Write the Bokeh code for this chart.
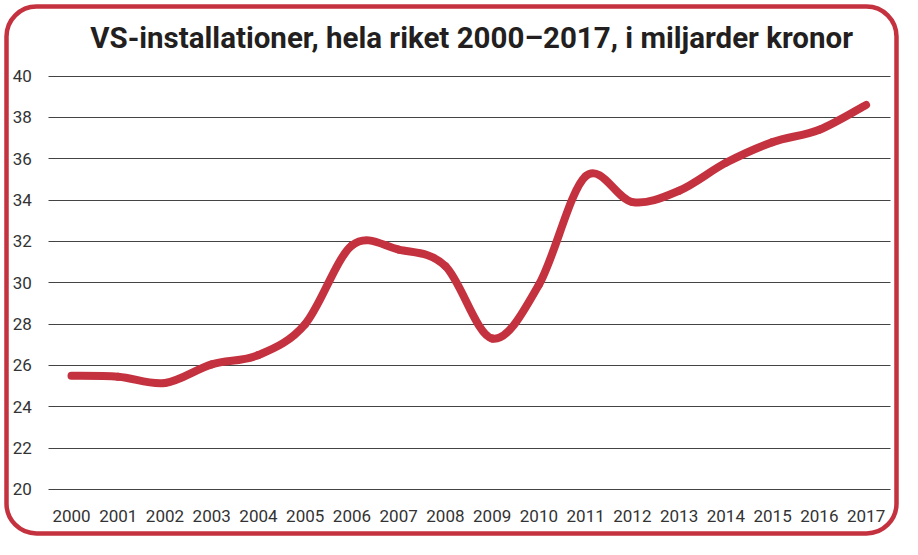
from bokeh.plotting import figure
from bokeh.models import (FixedTicker, ColumnDataSource, Range1d, LinearAxis,
                          Grid, BoxAnnotation, Label)
from bokeh.embed import file_html
from bokeh.resources import INLINE

years = list(range(2000, 2018))
values = [25.5, 25.45, 25.15, 26.05, 26.5, 28.0, 31.8, 31.6, 30.8, 27.3,
          29.9, 35.15, 33.9, 34.45, 35.8, 36.8, 37.4, 38.6]
y_ticks = list(range(20, 41, 2))
title_text = "VS-installationer, hela riket 2000\u20132017, i miljarder kronor"

RED = "#c5323f"
W, H = 902, 539

# pixel layout (canvas coords, y down)
X_FIRST_PX, X_STEP_PX = 71.0, 46.74      # position of first year, px per year
Y_TOP_PX, Y_UNIT_PX = 75.5, 20.67        # position of 40, px per unit
def dx(px):
    return years[0] + (px - X_FIRST_PX) / X_STEP_PX
def dy(py):
    return y_ticks[-1] - (py - Y_TOP_PX) / Y_UNIT_PX

p = figure(width=W, height=H, output_backend="svg", toolbar_location=None,
           x_range=Range1d(dx(0), dx(W)), y_range=Range1d(dy(H), dy(0)),
           x_axis_location=None, y_axis_location=None,
           min_border_left=0, min_border_right=0, min_border_top=0,
           min_border_bottom=0)
p.outline_line_color = None
p.background_fill_color = "white"
p.border_fill_color = "white"
p.xgrid.visible = False
p.ygrid.visible = False

# axes drawn at fixed positions inside the full-canvas frame
xaxis = LinearAxis(fixed_location=dy(497), ticker=FixedTicker(ticks=years))
yaxis = LinearAxis(fixed_location=dx(48.3), ticker=FixedTicker(ticks=y_ticks))
for ax in (xaxis, yaxis):
    ax.axis_line_color = None
    ax.major_tick_line_color = None
    ax.minor_tick_line_color = None
    ax.major_label_text_font = "Roboto"
    ax.major_label_text_font_size = "17px"
    ax.major_label_text_color = "#333333"
xaxis.major_label_standoff = 6
yaxis.major_label_standoff = 11
p.add_layout(xaxis, "below")
p.add_layout(yaxis, "left")

grid = Grid(dimension=1, ticker=FixedTicker(ticks=y_ticks),
            cross_bounds=(dx(48.3), dx(890)),
            grid_line_color="#444444", grid_line_width=1)
p.add_layout(grid)

# Catmull-Rom style bezier control points from the data
n = len(years)
x0, y0, x1, y1, cx0, cy0, cx1, cy1 = [], [], [], [], [], [], [], []
for i in range(n - 1):
    xm, ym = (years[i - 1], values[i - 1]) if i > 0 else (years[i], values[i])
    xa, ya = years[i], values[i]
    xb, yb = years[i + 1], values[i + 1]
    xp, yp = (years[i + 2], values[i + 2]) if i + 2 < n else (xb, yb)
    x0.append(xa); y0.append(ya); x1.append(xb); y1.append(yb)
    cx0.append(xa + (xb - xm) / 6); cy0.append(ya + (yb - ym) / 6)
    cx1.append(xb - (xp - xa) / 6); cy1.append(yb - (yp - ya) / 6)
src = ColumnDataSource(dict(x0=x0, y0=y0, x1=x1, y1=y1, cx0=cx0, cy0=cy0, cx1=cx1, cy1=cy1))
p.bezier(x0="x0", y0="y0", x1="x1", y1="y1", cx0="cx0", cy0="cy0", cx1="cx1", cy1="cy1",
         source=src, line_color=RED, line_width=8, line_cap="round")

# title
title = Label(x=dx(89.7), y=dy(37), text=title_text, text_align="left",
              text_baseline="middle", text_font="Roboto", text_font_style="bold",
              text_font_size="29.5px", text_color="#231f20")
p.add_layout(title)

# rounded red frame
border = BoxAnnotation(left=dx(6), right=dx(896), top=dy(6), bottom=dy(533),
                       fill_color=None, fill_alpha=0, line_color=RED, line_width=4.5,
                       line_alpha=1, border_radius=30, level="overlay")
p.add_layout(border)

open("out.html", "w").write(file_html(p, INLINE))
